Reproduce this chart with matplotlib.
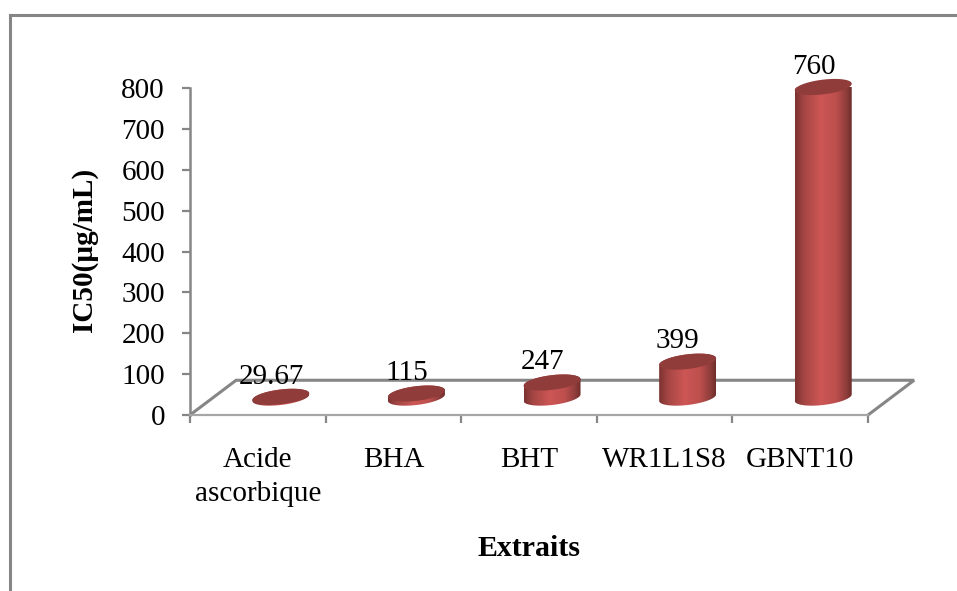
import numpy as np
from matplotlib import pyplot as plt
from matplotlib.colors import LinearSegmentedColormap
from matplotlib.patches import Polygon

categories = ['Acide\nascorbique', 'BHA', 'BHT', 'WR1L1S8', 'GBNT10']
# printed labels do not match the drawn heights in the source chart
bar_heights = [2, 10, 37, 88, 760]
bar_labels = ['29.67', '115', '247', '399', '760']
y_ticks = [0, 100, 200, 300, 400, 500, 600, 700, 800]

W, H = 957, 591
GREY = '#868686'
DEPTH_X = 0.34   # floor depth, category units
DEPTH_Y = 85     # floor depth, value units
RX = 0.21        # cylinder half width
RY = 18          # ellipse half height
TILT = 8         # ellipse lean

plt.rcParams['font.family'] = ['Liberation Serif', 'DejaVu Serif']
plt.rcParams['font.size'] = 21

fig = plt.figure(figsize=(W / 100, H / 100), dpi=100)

# outer frame, only top and left survive the crop
frame = fig.add_axes([10 / W, 0, 1, (H - 15) / H])
frame.set_xticks([])
frame.set_yticks([])
frame.spines[['right', 'bottom']].set_visible(False)
frame.spines[['left', 'top']].set_color(GREY)
frame.spines[['left', 'top']].set_linewidth(2.2)

ax = fig.add_axes([190 / W, (H - 415) / H, 678 / W, 327 / H])
ax.patch.set_alpha(0)
n = len(categories)

# floor
ax.plot([0, DEPTH_X, n + DEPTH_X, n], [0, DEPTH_Y, DEPTH_Y, 0], color=GREY,
        lw=2.2, clip_on=False, zorder=1, solid_joinstyle='miter')

shade = LinearSegmentedColormap.from_list('cyl', [
    (0.0, '#7a3230'), (0.15, '#a34543'), (0.45, '#cd5755'),
    (0.72, '#bd4f4d'), (0.9, '#8f3d3b'), (1.0, '#6e2d2b')])
t = np.linspace(0, 2 * np.pi, 120)
lower = np.linspace(np.pi, 2 * np.pi, 60)
upper = np.linspace(0, np.pi, 60)

for i, (h, lab) in enumerate(zip(bar_heights, bar_labels)):
    cx = i + 0.5 + DEPTH_X / 2
    cy = DEPTH_Y / 2
    top = cy + h

    # side of the cylinder, gradient image clipped to the outline
    bx = cx + RX * np.cos(lower)
    by = cy + RY * np.sin(lower) + TILT * np.cos(lower)
    tx = cx + RX * np.cos(upper)
    ty = top + RY * np.sin(upper) + TILT * np.cos(upper)
    body = Polygon(np.column_stack([np.r_[bx, tx], np.r_[by, ty]]),
                   transform=ax.transData, facecolor='none', edgecolor='none')
    ax.add_patch(body)
    body.set_clip_on(False)
    im = ax.imshow(np.linspace(0, 1, 256)[None, :], cmap=shade, aspect='auto',
                   extent=[cx - RX, cx + RX, cy - RY - TILT, top + RY + TILT],
                   zorder=2, interpolation='bilinear')
    im.set_clip_box(None)
    im.set_clip_path(body)

    # top of the cylinder
    ax.fill(cx + RX * np.cos(t), top + RY * np.sin(t) + TILT * np.cos(t),
            color='#8f3c3a', lw=0, zorder=3, clip_on=False)

    ax.annotate(lab, (cx, top), xytext=(-7, 9.5), textcoords='offset points',
                ha='center', va='baseline', fontsize=21, zorder=4,
                annotation_clip=False)

ax.set_xlim(0, n)
ax.set_ylim(0, 800)
ax.set_yticks(y_ticks)
ax.set_xticks(range(n + 1))
ax.set_xticklabels([])
ax.set_xticks(np.arange(n) + 0.5, categories, minor=True)
ax.tick_params(axis='x', which='minor', length=0, pad=23)
ax.tick_params(axis='x', which='major', length=6, width=1.6, color=GREY)
ax.tick_params(axis='y', length=6, width=1.6, color=GREY, pad=12)
for lbl in ax.get_xticklabels(minor=True):
    lbl.set_linespacing(1.42)

ax.spines[['top', 'right']].set_visible(False)
ax.spines['left'].set_color(GREY)
ax.spines['left'].set_linewidth(1.8)
ax.spines['bottom'].set_color('#a6a6a6')
ax.spines['bottom'].set_linewidth(1.6)

ax.set_ylabel('IC50(µg/mL)', fontweight='bold', fontsize=21)
ax.yaxis.set_label_coords(-92 / 678, 165 / 327)
ax.set_xlabel('Extraits', fontweight='bold', fontsize=21.5)
ax.xaxis.set_label_coords(0.5, -120 / 327)

fig.savefig('out.png', dpi=100)
